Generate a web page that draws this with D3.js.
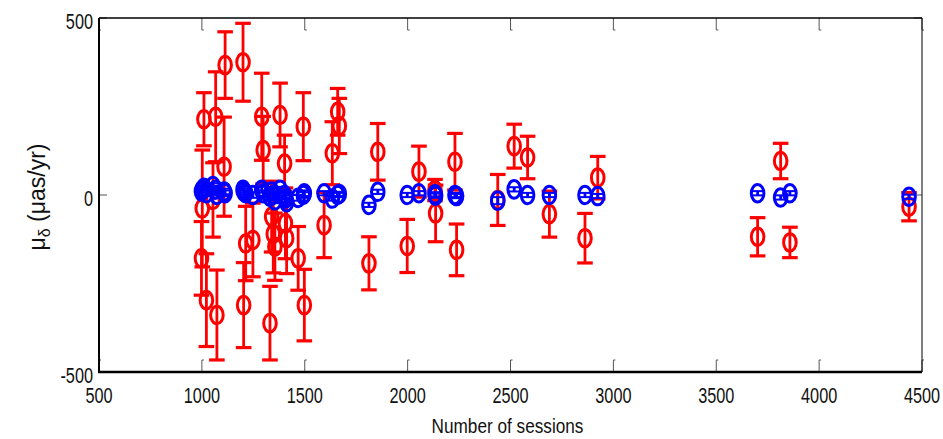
<!DOCTYPE html>
<html><head><meta charset="utf-8">
<script src="https://cdn.jsdelivr.net/npm/d3@7/dist/d3.min.js"></script>
<style>body{margin:0;background:#fff}svg{display:block}</style>
</head><body><svg id="c" width="943" height="439"></svg>
<script>
const sessions   = [998,1002,1010,1022,1054,1067,1073,1108,1113,1200,1203,1213,1248,1291,1298,1331,1339,1347,1355,1380,1402,1406,1412,1468,1493,1498,1594,1634,1660,1668,1812,1855,1998,2055,2133,2136,2230,2238,2438,2518,2583,2689,2862,2924,3701,3813,3858,4437];
const redValues  = [-179,-38,214,-297,-14,221,-339,80,367,375,-311,-137,-127,221,127,-362,-61,-110,-146,226,89,-80,-122,-179,193,-311,-85,118,235,195,-193,122,-144,66,14,-52,94,-155,-14,138,106,-54,-122,49,-118,96,-134,-33];
const redErrors  = [104,165,75,131,105,127,127,140,94,110,120,105,104,123,95,104,100,110,95,90,80,100,100,90,96,101,92,89,66,78,75,80,75,72,30,80,80,73,72,62,60,65,70,60,54,50,43,40];
const blueValues = [10,15,20,5,25,15,0,10,5,15,10,5,0,15,5,-5,10,0,-15,15,0,-10,-20,-8,0,5,5,-10,0,3,-28,9,0,5,2,-2,0,-3,-16,16,0,0,0,-3,5,-7,5,-5];
const blueErrors = [8,8,8,8,8,8,8,8,8,8,8,8,8,8,8,8,8,8,8,8,8,8,8,8,8,8,6,6,6,6,6,6,6,6,6,6,6,6,10,6,6,6,6,6,6,6,6,6];
const xTicks = [500,1000,1500,2000,2500,3000,3500,4000,4500];
const yTicks = [-500,0,500];

const svg = d3.select("#c");
const L=99, R=922, T=18, B=372;
const x = d3.scaleLinear().domain([500,4500]).range([L,R]);
const y = d3.scaleLinear().domain([-500,500]).range([B,T]);

const pts = sessions.map((s,i)=>({s, rv:redValues[i], re:redErrors[i], bv:blueValues[i], be:blueErrors[i]}));

// ticks (inward)
const tk = svg.append("g").attr("stroke","#555").attr("stroke-width",1).attr("fill","none");
xTicks.forEach(t=>{
  const px = x(t);
  tk.append("path").attr("d",`M${px},${B}V${B-12}h2`);
  tk.append("path").attr("d",`M${px},${T}V${T+12}h2`);
});
yTicks.forEach(t=>{
  const py = y(t);
  tk.append("path").attr("d",`M${L},${py}H${L+8}`);
  tk.append("path").attr("d",`M${R},${py}H${R-8}`);
});

// frame
svg.append("line").attr("x1",L).attr("x2",R).attr("y1",T).attr("y2",T).attr("stroke","#000").attr("stroke-width",1.5);
svg.append("line").attr("x1",R).attr("x2",R).attr("y1",T).attr("y2",B).attr("stroke","#000").attr("stroke-width",1);
svg.append("line").attr("x1",L).attr("x2",L).attr("y1",T).attr("y2",B+1).attr("stroke","#000").attr("stroke-width",2);
svg.append("line").attr("x1",L-1).attr("x2",R).attr("y1",B).attr("y2",B).attr("stroke","#000").attr("stroke-width",2.5);

function series(vKey,eKey,color,rx,ry,sw,capW,capSW){
  const g = svg.append("g");
  const bars = g.append("g").attr("stroke",color).attr("fill","none");
  pts.forEach(d=>{
    const cx=x(d.s), y1=y(d[vKey]+d[eKey]), y2=y(d[vKey]-d[eKey]);
    bars.append("line").attr("x1",cx).attr("x2",cx).attr("y1",y1).attr("y2",y2).attr("stroke-width",2.8);
    bars.append("line").attr("x1",cx-capW).attr("x2",cx+capW).attr("y1",y1).attr("y2",y1).attr("stroke-width",capSW);
    bars.append("line").attr("x1",cx-capW).attr("x2",cx+capW).attr("y1",y2).attr("y2",y2).attr("stroke-width",capSW);
  });
  g.append("g").selectAll("ellipse").data(pts).join("ellipse")
    .attr("cx",d=>x(d.s)).attr("cy",d=>y(d[vKey]))
    .attr("rx",rx).attr("ry",ry).attr("fill","none").attr("stroke",color).attr("stroke-width",sw);
}
series("rv","re","#ff0000",6.3,8.8,3,7.8,3.2);
series("bv","be","#0000ff",6.3,8.8,3,6.5,2);

// tick labels
const font = "'Liberation Sans', Arial, sans-serif";
xTicks.forEach(t=>{
  svg.append("text").attr("transform",`translate(${x(t)},403) scale(0.74,1)`)
    .attr("text-anchor","middle").attr("font-family",font).attr("font-size",22).attr("fill","#111").text(t);
});
yTicks.forEach(t=>{
  svg.append("text").attr("transform",`translate(93,${y(t)+10.5}) scale(0.74,1)`)
    .attr("text-anchor","end").attr("font-family",font).attr("font-size",22).attr("fill","#111").text(t);
});

// axis labels
svg.append("text").attr("transform",`translate(${(L+R)/2-3},433) scale(0.86,1)`)
  .attr("text-anchor","middle").attr("font-family",font).attr("font-size",20).attr("fill","#111").text("Number of sessions");

const yl = svg.append("text").attr("transform","translate(45,197) rotate(-90)")
  .attr("text-anchor","middle").attr("font-family",font).attr("font-size",23).attr("fill","#111");
yl.append("tspan").text("μ");
yl.append("tspan").attr("font-size",16).attr("dy",5).text("δ");
yl.append("tspan").attr("dy",-5).text(" (μas/yr)");
</script></body></html>
